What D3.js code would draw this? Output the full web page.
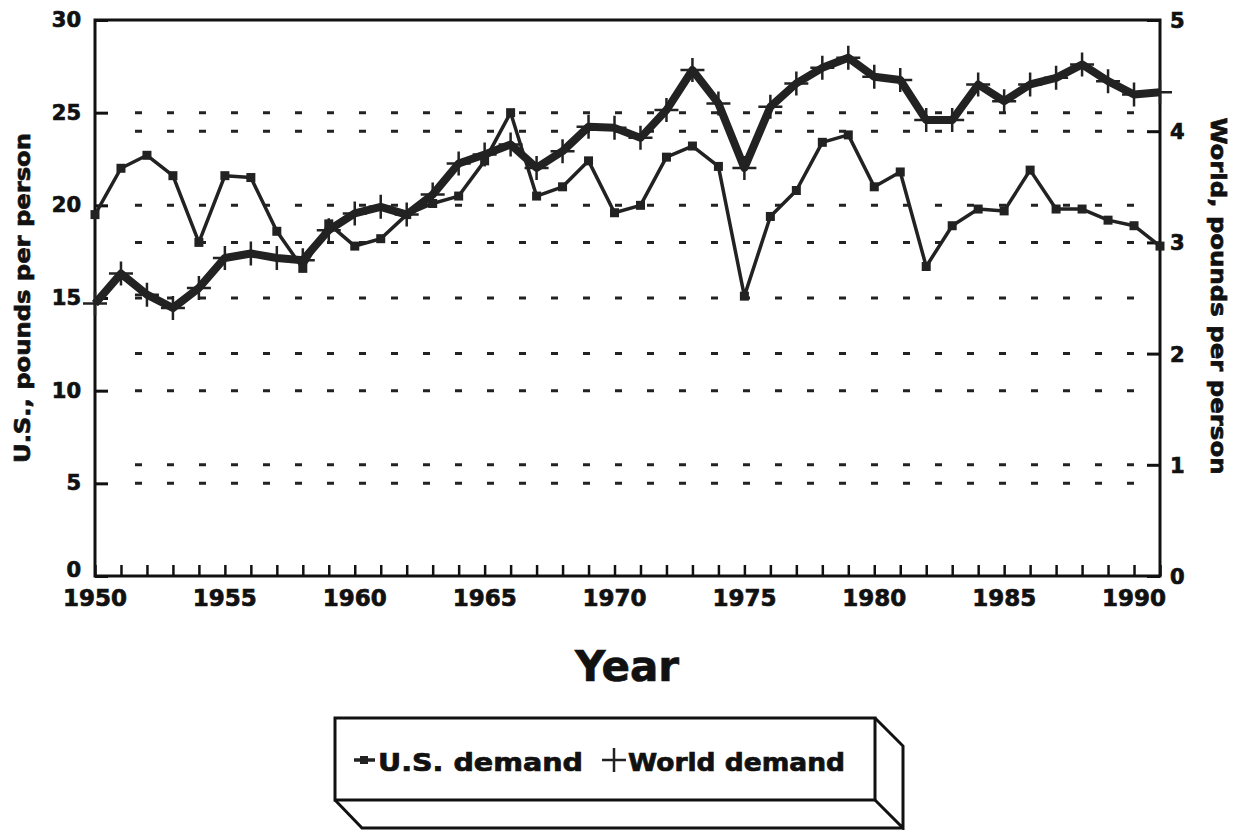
<!DOCTYPE html>
<html>
<head>
  <script src="https://d3js.org/d3.v7.min.js"></script>
  <style>
    html, body { margin: 0; padding: 0; background: #fff; }
    svg { display: block; }
    text { font-family: "DejaVu Sans", Arial, sans-serif; font-weight: bold; fill: #111; stroke: #111; stroke-width: 0.7px; }
    .tick { font-size: 21px; }
    .xtick { font-size: 23px; }
  </style>
</head>
<body>
<script>
  // data
  const years = d3.range(1950, 1992);
  const usDemand = [19.5, 22.0, 22.7, 21.6, 18.0, 21.6, 21.5, 18.6, 16.6, 19.0,
                    17.8, 18.2, 19.5, 20.1, 20.5, 22.4, 25.0, 20.5, 21.0, 22.4,
                    19.6, 20.0, 22.6, 23.2, 22.1, 15.1, 19.4, 20.8, 23.4, 23.8,
                    21.0, 21.8, 16.7, 18.9, 19.8, 19.7, 21.9, 19.8, 19.8, 19.2,
                    18.9, 17.8];
  const worldDemand = [2.45, 2.72, 2.53, 2.41, 2.59, 2.86, 2.90, 2.86, 2.84, 3.11,
                       3.26, 3.32, 3.25, 3.43, 3.71, 3.79, 3.88, 3.67, 3.82, 4.04,
                       4.03, 3.94, 4.19, 4.55, 4.25, 3.67, 4.22, 4.43, 4.57, 4.66,
                       4.49, 4.46, 4.10, 4.10, 4.42, 4.27, 4.42, 4.48, 4.60, 4.45,
                       4.33, 4.35];
  const leftTicks = [0, 5, 10, 15, 20, 25, 30];
  const rightTicks = [0, 1, 2, 3, 4, 5];
  const xLabels = [1950, 1955, 1960, 1965, 1970, 1975, 1980, 1985, 1990];

  const width = 1238, height = 830;
  const margin = {top: 20, left: 95, right: 78, bottom: 254};

  const svg = d3.select("body").append("svg")
    .attr("width", width)
    .attr("height", height);

  const x = d3.scaleLinear().domain([1950, 1991]).range([margin.left, width - margin.right]);
  const yL = d3.scaleLinear().domain([0, 30]).range([height - margin.bottom, margin.top]);
  const yR = d3.scaleLinear().domain([0, 5]).range([height - margin.bottom, margin.top]);

  const x0 = x.range()[0], x1 = x.range()[1];

  // dotted grid at both axes' ticks
  const gridY = leftTicks.filter(d => d > 0 && d < 30).map(d => yL(d))
    .concat(rightTicks.filter(d => d > 0 && d < 5).map(d => yR(d)));
  svg.append("g").selectAll("line")
    .data(gridY)
    .join("line")
      .attr("x1", x0 + 40).attr("x2", x1 - 4)
      .attr("y1", d => d).attr("y2", d => d)
      .attr("stroke", "#222")
      .attr("stroke-width", 3)
      .attr("stroke-dasharray", "7,25");

  // frame
  svg.append("rect")
    .attr("x", x0).attr("y", yL(30))
    .attr("width", x1 - x0).attr("height", yL(0) - yL(30))
    .attr("fill", "none").attr("stroke", "#111").attr("stroke-width", 3);

  // left axis
  const leftAxis = svg.append("g")
    .attr("transform", `translate(${x0},0)`)
    .call(d3.axisRight(yL).tickValues(leftTicks).tickSize(13).tickFormat(""));
  leftAxis.select(".domain").remove();
  leftAxis.selectAll("line").attr("stroke", "#111").attr("stroke-width", 3);
  svg.append("g").selectAll("text")
    .data(leftTicks)
    .join("text")
      .attr("class", "tick")
      .attr("x", x0 - 14)
      .attr("y", d => yL(d) + (d === 0 ? 1 : 7))
      .attr("text-anchor", "end")
      .text(d => d);

  // right axis
  const rightAxis = svg.append("g")
    .attr("transform", `translate(${x1},0)`)
    .call(d3.axisLeft(yR).tickValues(rightTicks).tickSize(13).tickFormat(""));
  rightAxis.select(".domain").remove();
  rightAxis.selectAll("line").attr("stroke", "#111").attr("stroke-width", 3);
  svg.append("g").selectAll("text")
    .data(rightTicks)
    .join("text")
      .attr("class", "tick")
      .attr("x", x1 + 10)
      .attr("y", d => yR(d) + 8)
      .attr("text-anchor", "start")
      .text(d => d);

  // x axis ticks, pointing up
  const xAxis = svg.append("g")
    .attr("transform", `translate(0,${yL(0)})`)
    .call(d3.axisTop(x).tickValues(years).tickSize(11).tickFormat(""));
  xAxis.select(".domain").remove();
  xAxis.selectAll("line").attr("stroke", "#111").attr("stroke-width", 2.5);
  svg.append("g").selectAll("text")
    .data(xLabels)
    .join("text")
      .attr("class", "xtick")
      .attr("x", d => x(d))
      .attr("y", yL(0) + 30)
      .attr("text-anchor", "middle")
      .text(d => d);

  // axis titles
  svg.append("text")
    .attr("transform", `translate(30,${(yL(0) + yL(30)) / 2}) rotate(-90)`)
    .attr("text-anchor", "middle")
    .attr("textLength", 330)
    .attr("lengthAdjust", "spacingAndGlyphs")
    .style("font-size", "21px")
    .text("U.S., pounds per person");
  svg.append("text")
    .attr("transform", `translate(1211,${(yL(0) + yL(30)) / 2 - 2}) rotate(90)`)
    .attr("text-anchor", "middle")
    .attr("textLength", 357)
    .attr("lengthAdjust", "spacingAndGlyphs")
    .style("font-size", "21px")
    .text("World, pounds per person");
  svg.append("text")
    .attr("x", 627).attr("y", 681)
    .attr("text-anchor", "middle")
    .style("font-size", "42px")
    .text("Year");

  // world demand: thick line with plus markers
  const worldLine = d3.line().x((d, i) => x(years[i])).y(d => yR(d));
  svg.append("path")
    .datum(worldDemand)
    .attr("d", worldLine)
    .attr("fill", "none")
    .attr("stroke", "#222")
    .attr("stroke-width", 8)
    .attr("stroke-linejoin", "round");
  svg.append("g").selectAll("path")
    .data(worldDemand)
    .join("path")
      .attr("transform", (d, i) => `translate(${x(years[i])},${yR(d)})`)
      .attr("d", "M-12,0H12M0,-12V12")
      .attr("stroke", "#222")
      .attr("stroke-width", 2.5);

  // US demand: thinner line with square markers
  const usLine = d3.line().x((d, i) => x(years[i])).y(d => yL(d));
  svg.append("path")
    .datum(usDemand)
    .attr("d", usLine)
    .attr("fill", "none")
    .attr("stroke", "#222")
    .attr("stroke-width", 3.5)
    .attr("stroke-linejoin", "round");
  svg.append("g").selectAll("rect")
    .data(usDemand)
    .join("rect")
      .attr("x", (d, i) => x(years[i]) - 4.5)
      .attr("y", d => yL(d) - 4.5)
      .attr("width", 9).attr("height", 9)
      .attr("fill", "#222");

  // legend box with 3d edge
  const lg = svg.append("g").attr("stroke", "#111").attr("stroke-width", 3).attr("fill", "none");
  lg.append("rect").attr("x", 335).attr("y", 718).attr("width", 540).attr("height", 82);
  lg.append("path").attr("d", "M875,718L903,746L903,828L875,800");
  lg.append("path").attr("d", "M335,800L362,828L903,828");

  svg.append("line")
    .attr("x1", 354).attr("x2", 375).attr("y1", 760).attr("y2", 760)
    .attr("stroke", "#222").attr("stroke-width", 3.5);
  svg.append("rect")
    .attr("x", 360).attr("y", 756).attr("width", 8).attr("height", 8)
    .attr("fill", "#222");
  svg.append("text")
    .attr("x", 378).attr("y", 771)
    .attr("textLength", 205)
    .attr("lengthAdjust", "spacingAndGlyphs")
    .style("font-size", "24px")
    .text("U.S. demand");
  svg.append("path")
    .attr("d", "M602,760H626M614,748V772")
    .attr("stroke", "#222").attr("stroke-width", 2.5);
  svg.append("text")
    .attr("x", 628).attr("y", 771)
    .attr("textLength", 217)
    .attr("lengthAdjust", "spacingAndGlyphs")
    .style("font-size", "24px")
    .text("World demand");
</script>
</body>
</html>
